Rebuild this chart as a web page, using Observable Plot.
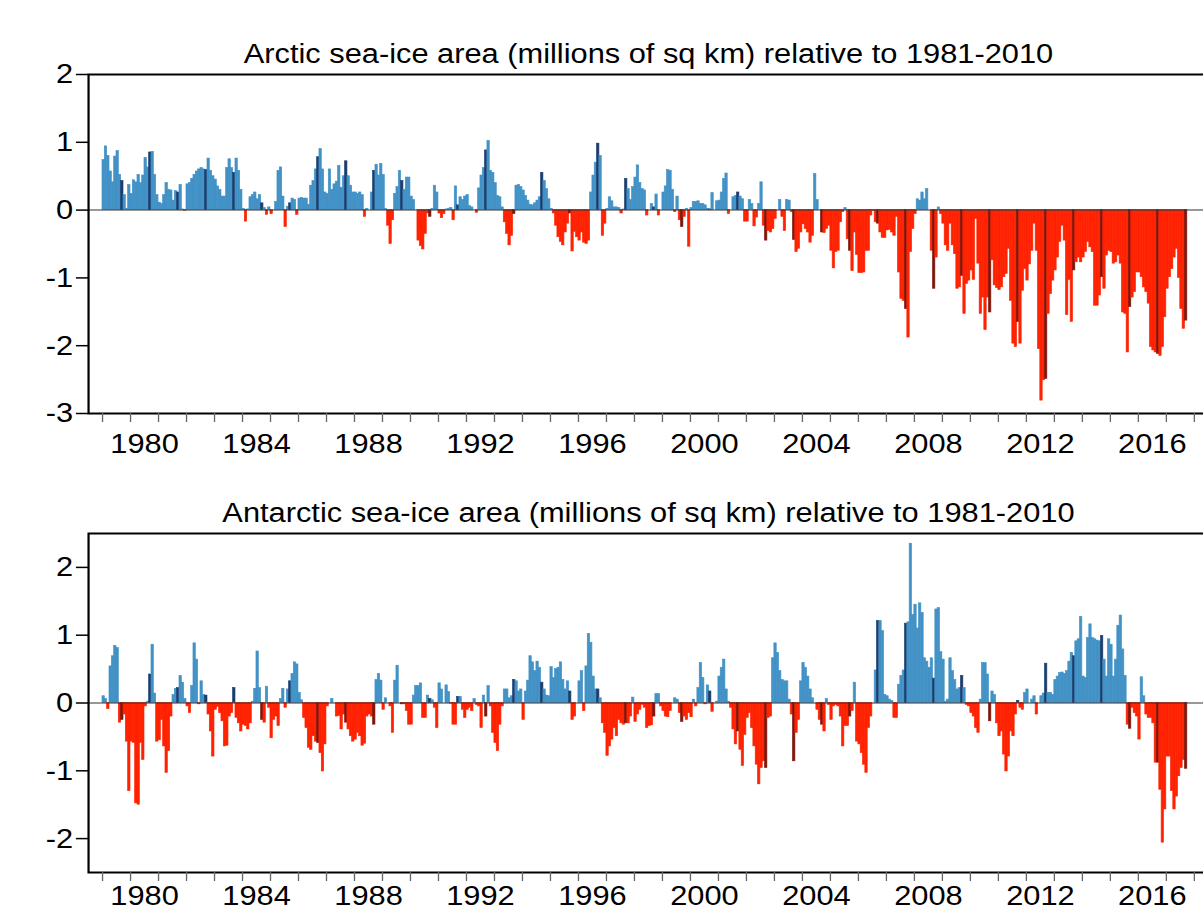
<!DOCTYPE html>
<html>
<head>
<meta charset="utf-8">
<script src="https://cdn.jsdelivr.net/npm/d3@7"></script>
<script src="https://cdn.jsdelivr.net/npm/@observablehq/plot@0.6"></script>
<style>
  html, body { margin: 0; padding: 0; background: #ffffff; overflow: hidden; width: 1203px; height: 910px; }
  .panel { width: 1100px; transform: scaleX(1.1); transform-origin: 0 0; }
  .panel svg { display: block; overflow: visible; }
</style>
</head>
<body>
<div id="top" class="panel"></div>
<div id="bottom" class="panel"></div>
<script>
// ---------------- data ----------------
const firstYear = 1979;          // first monthly value is January 1979
const highlightMonth = 8;        // September bars are drawn darker

const arcticTitle = "Arctic sea-ice area (millions of sq km) relative to 1981-2010";
const antarcticTitle = "Antarctic sea-ice area (millions of sq km) relative to 1981-2010";

const yearLabels = [1980, 1984, 1988, 1992, 1996, 2000, 2004, 2008, 2012, 2016];
const arcticYTicks = [-3, -2, -1, 0, 1, 2];
const antarcticYTicks = [-2, -1, 0, 1, 2];

// monthly anomalies, Jan 1979 .. Sep 2017 (one row per year)
const arcticAnomaly = [
  0.74, 0.94, 0.80, 0.57, 0.41, 0.79, 0.87, 0.52, 0.43, 0.22, 0.02, 0.37,
  0.24, 0.44, 0.41, 0.52, 0.40, 0.51, 0.77, 0.63, 0.85, 0.86, 0.52, 0.22,
  0.11, 0.09, 0.22, 0.40, 0.30, 0.29, 0.14, 0.28, 0.26, 0.37, 0.01, -0.01,
  0.38, 0.40, 0.46, 0.52, 0.57, 0.60, 0.62, 0.60, 0.59, 0.76, 0.58, 0.50,
  0.45, 0.35, 0.30, 0.20, 0.20, 0.62, 0.75, 0.62, 0.55, 0.76, 0.58, 0.30,
  0.02, -0.17, 0.01, 0.19, 0.22, 0.26, 0.16, 0.22, 0.10, 0.03, -0.07, 0.04,
  -0.06, 0.00, 0.12, 0.58, 0.63, 0.20, -0.25, 0.05, 0.10, 0.17, 0.15, -0.07,
  0.17, 0.18, 0.17, 0.17, 0.08, 0.36, 0.43, 0.60, 0.78, 0.90, 0.60, 0.26,
  0.24, 0.60, 0.30, 0.38, 0.42, 0.65, 0.33, 0.50, 0.72, 0.50, 0.36, 0.26,
  0.26, 0.24, 0.26, 0.22, -0.10, 0.02, 0.00, 0.26, 0.58, 0.67, 0.51, 0.68,
  0.52, 0.02, -0.23, -0.50, -0.15, 0.24, 0.34, 0.58, 0.43, 0.30, 0.48, 0.48,
  0.20, 0.15, 0.00, -0.45, -0.53, -0.58, -0.35, -0.05, -0.10, 0.02, 0.36, 0.26,
  -0.05, -0.12, -0.06, 0.01, 0.02, 0.03, -0.15, 0.35, 0.07, 0.19, 0.15, 0.20,
  0.22, 0.06, 0.04, 0.00, -0.04, 0.32, 0.51, 0.62, 0.88, 1.02, 0.58, 0.55,
  0.40, 0.21, 0.19, 0.04, -0.18, -0.35, -0.52, -0.38, -0.06, 0.36, 0.37, 0.34,
  0.29, 0.21, 0.14, 0.08, 0.07, 0.10, 0.14, 0.19, 0.55, 0.43, 0.31, 0.16,
  0.02, -0.05, -0.23, -0.40, -0.47, -0.52, -0.33, -0.20, -0.05, -0.61, -0.32, -0.40,
  -0.45, -0.33, -0.48, -0.50, -0.45, 0.26, 0.51, 0.70, 0.98, 0.80, -0.38, -0.20,
  0.02, 0.19, 0.13, 0.04, 0.04, 0.03, -0.05, 0.01, 0.46, 0.31, 0.15, 0.34,
  0.48, 0.66, 0.40, 0.31, 0.29, -0.08, 0.00, 0.09, 0.04, 0.23, -0.08, 0.00,
  0.26, 0.35, 0.59, 0.58, 0.30, -0.03, 0.20, -0.15, -0.25, -0.10, 0.02, -0.54,
  0.03, 0.12, 0.12, 0.13, 0.09, 0.09, 0.07, 0.02, 0.01, 0.25, 0.00, 0.13,
  0.14, 0.26, 0.46, 0.54, -0.06, 0.00, 0.19, 0.21, 0.26, 0.20, 0.16, -0.17,
  -0.17, 0.15, 0.09, -0.24, -0.11, 0.09, 0.41, -0.23, -0.45, -0.31, -0.33, -0.28,
  -0.13, 0.00, 0.15, -0.10, -0.31, 0.15, 0.14, -0.03, -0.44, -0.62, -0.57, -0.33,
  -0.21, -0.28, -0.33, -0.48, -0.38, 0.53, 0.15, 0.00, -0.33, -0.34, -0.28, -0.23,
  -0.60, -0.86, -0.62, -0.60, -0.18, -0.03, 0.03, -0.43, -0.60, -0.90, -0.33, -0.66,
  -0.93, -0.93, -0.92, -0.60, -0.60, -0.08, -0.01, -0.18, -0.20, -0.33, -0.41, -0.41,
  -0.30, -0.29, -0.33, -0.38, -0.10, -0.92, -1.31, -1.34, -1.46, -1.88, -0.62, -0.28,
  -0.06, 0.16, 0.14, 0.26, 0.16, 0.31, 0.00, -0.60, -1.16, -0.70, 0.04, -0.06,
  -0.20, -0.52, -0.60, -0.20, -0.52, -0.65, -1.16, -1.14, -0.97, -1.53, -1.09, -1.04,
  -0.89, -1.03, -0.13, -0.79, -1.53, -1.29, -1.77, -1.29, -1.51, -0.74, -1.11, -1.15,
  -1.18, -1.14, -0.99, -0.94, -0.57, -1.34, -1.97, -2.02, -1.65, -1.97, -1.19, -0.87,
  -1.04, -0.80, -0.60, -0.20, -0.60, -2.05, -2.81, -2.51, -2.49, -1.53, -1.24, -1.04,
  -0.89, -0.70, -0.47, -0.23, -0.45, -1.55, -1.03, -1.65, -0.89, -0.77, -0.70, -0.77,
  -0.70, -0.62, -0.47, -0.55, -0.62, -1.41, -1.41, -1.26, -0.99, -1.16, -0.67, -0.60,
  -0.62, -0.79, -0.77, -0.67, -0.79, -1.51, -1.53, -2.10, -1.43, -1.29, -1.21, -0.92,
  -0.92, -0.99, -1.14, -1.21, -1.38, -2.02, -2.07, -2.10, -2.12, -2.15, -2.02, -1.58,
  -1.16, -0.99, -0.87, -0.70, -0.57, -1.00, -1.46, -1.75, -1.63
];

const antarcticAnomaly = [
  0.10, 0.06, -0.09, 0.54, 0.69, 0.84, 0.81, -0.29, -0.25, -0.17, -0.57, -1.30,
  -0.57, -0.59, -1.48, -1.50, -0.59, -0.84, -0.05, 0.02, 0.42, 0.86, 0.14, -0.57,
  -0.55, -0.25, -0.64, -1.03, -0.71, -0.20, 0.12, 0.21, 0.22, 0.40, 0.30, 0.06,
  -0.05, -0.15, 0.25, 0.88, 0.64, -0.02, 0.32, 0.12, 0.11, -0.17, -0.42, -0.79,
  -0.10, -0.06, -0.15, -0.27, -0.64, -0.63, -0.20, -0.15, 0.22, -0.22, -0.30, -0.42,
  -0.32, -0.34, -0.39, -0.30, 0.02, 0.21, 0.76, 0.22, -0.25, -0.29, 0.24, -0.07,
  -0.52, -0.25, -0.20, -0.34, 0.06, 0.21, -0.07, 0.20, 0.32, 0.43, 0.60, 0.57,
  0.15, 0.04, -0.22, -0.37, -0.66, -0.69, -0.49, -0.57, -0.59, -0.74, -1.01, -0.61,
  -0.05, 0.00, 0.06, 0.00, -0.20, -0.19, -0.39, -0.17, -0.29, -0.39, -0.49, -0.57,
  -0.54, -0.44, -0.49, -0.63, -0.60, -0.20, -0.17, -0.20, -0.32, 0.34, 0.43, 0.33,
  -0.10, 0.07, 0.00, -0.05, -0.44, 0.33, 0.55, 0.00, -0.02, -0.02, -0.12, -0.32,
  -0.32, 0.11, 0.25, 0.25, 0.29, -0.22, -0.22, 0.11, 0.06, 0.04, -0.07, -0.37,
  0.29, 0.20, 0.00, 0.26, 0.16, -0.01, -0.32, -0.32, 0.09, 0.09, -0.10, -0.22,
  -0.10, -0.07, -0.12, 0.06, -0.03, -0.05, -0.37, 0.11, -0.20, 0.25, -0.05, -0.44,
  -0.59, -0.71, -0.32, -0.05, 0.20, 0.20, 0.07, 0.10, 0.34, 0.32, 0.17, 0.20,
  -0.25, 0.17, 0.33, 0.69, 0.60, 0.47, 0.61, 0.52, 0.30, 0.20, 0.11, 0.10,
  0.53, 0.37, 0.50, 0.52, 0.60, 0.34, 0.20, 0.32, 0.17, -0.25, -0.20, 0.00,
  0.32, 0.47, -0.12, 0.54, 1.02, 0.89, 0.39, 0.20, 0.20, 0.07, -0.30, -0.44,
  -0.78, -0.64, -0.54, -0.37, -0.49, -0.25, -0.30, -0.32, -0.30, -0.30, -0.20, 0.08,
  -0.28, -0.17, -0.10, -0.03, -0.07, -0.37, -0.34, -0.33, -0.20, 0.13, 0.13, -0.05,
  -0.12, -0.20, -0.21, -0.12, 0.00, 0.07, 0.05, -0.15, -0.28, -0.20, -0.25, -0.15,
  -0.21, 0.05, -0.05, 0.22, 0.59, 0.37, -0.02, 0.26, 0.17, -0.13, 0.00, 0.02,
  0.39, 0.52, 0.64, 0.20, 0.02, -0.07, -0.39, -0.61, -0.42, -0.69, -0.93, -0.47,
  -0.22, -0.15, -0.37, -0.64, -0.91, -1.20, -0.96, -0.86, -0.96, -0.22, -0.20, 0.66,
  0.88, 0.74, 0.47, 0.34, 0.32, 0.32, 0.05, -0.17, -0.86, -0.44, -0.25, 0.32,
  0.59, 0.52, 0.39, 0.20, 0.07, 0.00, -0.10, -0.25, -0.32, -0.42, 0.06, -0.03,
  -0.25, -0.05, -0.03, -0.05, -0.20, -0.64, -0.34, -0.34, -0.20, -0.12, 0.30, -0.57,
  -0.61, -0.74, -0.91, -1.03, -0.37, -0.20, 0.00, 0.48, 1.21, 1.21, 1.06, 0.12,
  0.10, 0.05, 0.03, -0.22, -0.22, 0.27, 0.40, 0.48, 1.17, 1.19, 2.35, 1.30,
  1.45, 1.10, 1.47, 1.33, 0.66, 0.61, 0.52, 0.66, 0.36, 1.38, 1.40, 0.75,
  0.64, 0.02, 0.05, 0.66, 0.47, 0.34, 0.20, 0.22, 0.40, 0.22, -0.03, -0.05,
  -0.15, -0.20, -0.37, -0.44, 0.05, 0.59, 0.59, 0.42, -0.27, 0.17, 0.12, -0.30,
  -0.49, -0.42, -0.76, -1.01, -0.79, -0.42, -0.49, -0.17, 0.03, -0.07, -0.10, 0.15,
  0.20, 0.00, 0.05, 0.10, -0.17, 0.00, 0.10, 0.14, 0.58, 0.15, 0.15, 0.12,
  0.34, 0.39, 0.44, 0.45, 0.43, 0.47, 0.61, 0.74, 0.69, 0.91, 0.94, 1.27,
  0.39, 0.37, 0.96, 1.16, 0.96, 0.94, 0.92, 0.91, 0.99, 0.64, 0.39, 0.94,
  0.86, 0.39, 0.64, 1.14, 1.29, 0.79, 0.40, -0.32, -0.38, -0.07, -0.15, -0.20,
  -0.54, 0.38, 0.10, -0.17, -0.22, -0.22, -0.30, -0.88, -0.88, -1.28, -2.06, -1.57,
  -0.79, -0.79, -1.30, -1.57, -1.38, -1.08, -0.96, -0.84, -0.97
];

// ---------------- styling ----------------
const FONT = "'Liberation Sans', Arial, Helvetica, sans-serif";
const BLUE = "#4292c6", NAVY = "#1b3d6e", RED = "#ff2200", DARKRED = "#7e150c";

function toRows(values) {
  return values.map((v, i) => ({
    start: firstYear + i / 12,
    end: firstYear + (i + 1) / 12,
    value: v,
    highlight: i % 12 === highlightMonth
  }));
}

function barColor(d) {
  return d.value >= 0 ? (d.highlight ? NAVY : BLUE) : (d.highlight ? DARKRED : RED);
}

function panel(values, title, yDomain, yTicks, height, marginTop, marginBottom, labelPadding) {
  const rows = toRows(values);
  const years = d3.range(firstYear, 2019);
  return Plot.plot({
    width: 1100,
    height,
    marginLeft: 80,
    marginRight: 2,
    marginTop,
    marginBottom,
    style: { fontFamily: FONT, background: "transparent", overflow: "visible" },
    x: { domain: [1978.5, 2018.5], axis: null },
    y: { domain: yDomain, axis: null },
    color: { type: "identity" },
    marks: [
      Plot.rect(rows, {
        x1: "start", x2: "end", y1: 0, y2: "value",
        fill: barColor, stroke: barColor, strokeWidth: 0.6
      }),
      Plot.ruleY([0], { stroke: "#333", strokeWidth: 1 }),
      Plot.frame({ stroke: "#000", strokeWidth: 2 }),
      Plot.axisY({ ticks: yTicks, label: null, tickSize: 11, tickPadding: 3, fontSize: 28, tickFormat: d => String(d), stroke: "#000", strokeWidth: 1.5, fill: "#000" }),
      Plot.axisX({ ticks: years, label: null, tickSize: 9, tickFormat: () => "", fill: "none", stroke: "#666", strokeWidth: 1.2 }),
      Plot.axisX({ ticks: yearLabels.map(y => y + 0.5), label: null, tickSize: 0, tickPadding: labelPadding, fontSize: 28, tickFormat: d => String(Math.floor(d)), fill: "#000" }),
      Plot.text([title], { frameAnchor: "top", dy: -12, lineAnchor: "bottom", fontSize: 28, fill: "#000" })
    ]
  });
}

document.getElementById("top").append(
  panel(arcticAnomaly, arcticTitle, [-3, 2], arcticYTicks, 470, 74, 57, 20)
);
document.getElementById("bottom").append(
  panel(antarcticAnomaly, antarcticTitle, [-2.5, 2.5], antarcticYTicks, 440, 63, 38, 13)
);
</script>
</body>
</html>
